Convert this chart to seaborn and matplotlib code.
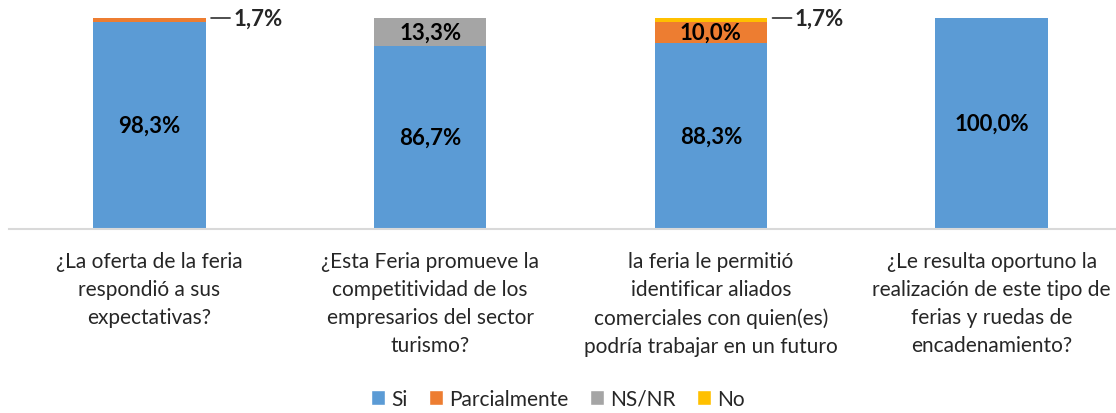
import numpy as np
import pandas as pd
import matplotlib
matplotlib.use("Agg")
import matplotlib.pyplot as plt
from matplotlib.patches import Patch
import seaborn as sns

preguntas = ["¿La oferta de la feria\nrespondió a sus\nexpectativas?",
             "¿Esta Feria promueve la\ncompetitividad de los\nempresarios del sector\nturismo?",
             "la feria le permitió\nidentificar aliados\ncomerciales con quien(es)\npodría trabajar en un futuro",
             "¿Le resulta oportuno la\nrealización de este tipo de\nferias y ruedas de\nencadenamiento?"]
si = [98.3, 86.7, 88.3, 100.0]
parcialmente = [1.7, 0.0, 10.0, 0.0]
ns_nr = [0.0, 13.3, 0.0, 0.0]
no = [0.0, 0.0, 1.7, 0.0]

series = ["Si", "Parcialmente", "NS/NR", "No"]
colores = ["#5B9BD5", "#ED7D31", "#A5A5A5", "#FFC000"]
valores = [si, parcialmente, ns_nr, no]

sns.set_style("white")
plt.rcParams["font.family"] = ["Lato", "DejaVu Sans"]

fig = plt.figure(figsize=(11.16, 4.14), dpi=100)
ax = fig.add_axes([9 / 1116, 184 / 414, 1107 / 1116, 211 / 414])

pos = np.arange(len(preguntas))
base = np.zeros(len(preguntas))
for nombre, col, vals in zip(series, colores, valores):
    vals = np.array(vals)
    df = pd.DataFrame({"pregunta": pos, "valor": vals})
    sns.barplot(data=df, x="pregunta", y="valor", color=col, width=0.4,
                bottom=base, ax=ax, saturation=1, order=list(pos), linewidth=0)
    for i, v in enumerate(vals):
        if v <= 0:
            continue
        yc = base[i] + v / 2
        txt = f"{v:.1f}%".replace(".", ",")
        if v < 5:
            # etiqueta pequeña con línea guía
            ax.annotate(txt, xy=(i + 0.2, base[i] + v), xytext=(20, 0),
                        textcoords="offset points", va="center", ha="left",
                        fontsize=16, fontweight="bold",
                        arrowprops=dict(arrowstyle="-", color="#404040", lw=1.3,
                                        shrinkA=0, shrinkB=4))
        else:
            ax.text(i, yc, txt, ha="center", va="center", fontsize=16,
                    fontweight="bold", color="black")
    base = base + vals

ax.set_xlim(-0.5, 3.5 - 16 / 280.7)
ax.set_ylim(0, 100)
ax.set_yticks([])
ax.set_xlabel("")
ax.set_ylabel("")
ax.set_xticks(pos)
ax.set_xticklabels(preguntas, fontsize=15, linespacing=1.5)
ax.tick_params(axis="x", length=0, pad=16)
for s in ["top", "right", "left"]:
    ax.spines[s].set_visible(False)
ax.spines["bottom"].set_color("#D9D9D9")
ax.spines["bottom"].set_linewidth(1.5)

handles = [Patch(facecolor=c, label=n) for n, c in zip(series, colores)]
fig.legend(handles=handles, loc="center", bbox_to_anchor=(0.5, 14 / 414),
           ncol=4, frameon=False, fontsize=15, handlelength=0.7,
           handleheight=0.7, handletextpad=0.3, columnspacing=1.0)

fig.savefig("out.png", dpi=100)
